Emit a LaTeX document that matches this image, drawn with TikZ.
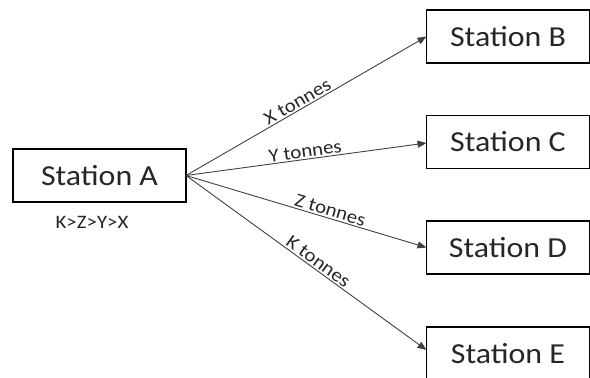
\documentclass[tikz,border=0pt]{standalone}
\usepackage{fontspec}
\setmainfont{Carlito}
\usetikzlibrary{arrows.meta,calc}
\newcommand{\widetext}[1]{\scalebox{1.1}[1]{#1}}
\begin{document}
\begin{tikzpicture}[x=1pt,y=-1pt,
  station/.style={draw=black,line width=1.1pt,minimum height=53pt,inner sep=0pt,outer sep=0pt,font=\fontsize{29}{32}\selectfont,text=black!85},
  flow/.style={draw=black!75,line width=0.9pt,-{Triangle[length=9pt,width=7pt]}},
  lbl/.style={font=\fontsize{19}{21}\selectfont,text=black!85,sloped,above,inner sep=1.5pt}]
\useasboundingbox (0,0) rectangle (590,378);
\clip (0,0) rectangle (590,378);
\node[station,minimum width=173pt] (A) at (99.5,175.5) {\widetext{Station A}};
\node[station,minimum width=163pt] (B) at (508,36.5) {\widetext{Station B}};
\node[station,minimum width=163pt] (C) at (508,142) {\widetext{Station C}};
\node[station,minimum width=163pt] (D) at (508,247.5) {\widetext{Station D}};
\node[station,minimum width=163pt,minimum height=54pt] (E) at (508,354) {\widetext{Station E}};
\node[font=\fontsize{19}{21}\selectfont,text=black!85] (ord) at (92,222) {\widetext{K>Z>Y>X}};
\coordinate (o) at (A.east);
\draw[flow] (o) -- node[lbl,pos=0.48] {\widetext{X tonnes}} (B.west);
\draw[flow] (o) -- node[lbl,pos=0.5] {\widetext{Y tonnes}} ($(C.west)+(0,1)$);
\draw[flow] (o) -- node[lbl,pos=0.59] {\widetext{Z tonnes}} (D.west);
\draw[flow] (o) -- node[lbl,pos=0.53] {\widetext{K tonnes}} ($(E.west)+(0,-4)$);
\end{tikzpicture}
\end{document}
